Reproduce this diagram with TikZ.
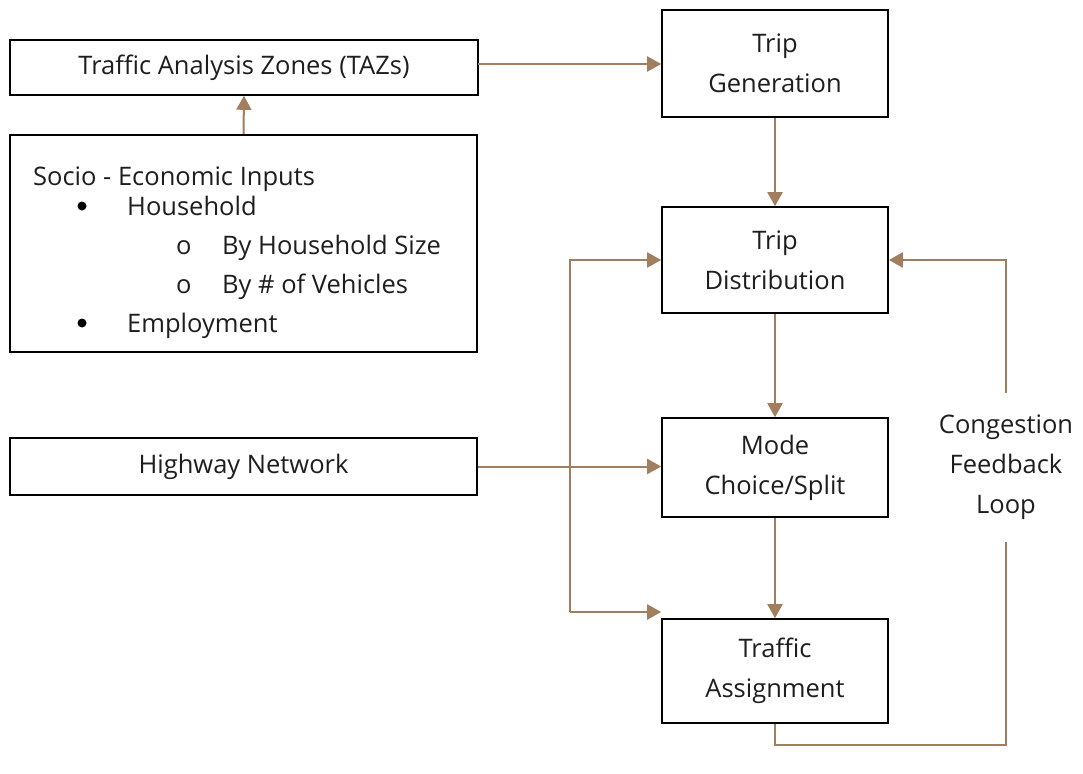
\documentclass[tikz,border=0pt]{standalone}
\usepackage{fontspec}
\setmainfont{Open Sans}
\usetikzlibrary{arrows.meta}
\definecolor{conn}{RGB}{160,126,94}
\definecolor{txt}{RGB}{30,30,30}
\tikzset{
  box/.style={draw=black, line width=1.6pt, inner sep=0pt, text=txt, align=center, font=\fontsize{25.5}{40}\selectfont},
  link/.style={draw=conn, line width=2pt, -{Triangle[length=14pt,width=15pt]}},
  plain/.style={draw=conn, line width=2pt},
  dot/.style={circle, fill=black, inner sep=0pt, minimum size=9pt},
}
\begin{document}
\begin{tikzpicture}[x=1pt,y=-1pt]
\useasboundingbox (0,0) rectangle (1083,773);
% boxes
\node[box, minimum width=468pt, minimum height=55pt] (taz) at (244,67.5) {Traffic Analysis Zones (TAZs)};
\node[box, minimum width=467pt, minimum height=217pt] (soc) at (243.5,243.5) {};
\node[box, minimum width=467pt, minimum height=57pt] (hwy) at (243.5,466.5) {Highway Network};
\node[box, minimum width=226pt, minimum height=107pt] (gen) at (775,63.5) {Trip\\Generation};
\node[box, minimum width=226pt, minimum height=106pt] (dist) at (775,260) {Trip\\Distribution};
\node[box, minimum width=226pt, minimum height=99pt] (mode) at (775,467.5) {Mode\\Choice/Split};
\node[box, minimum width=226pt, minimum height=104pt] (asg) at (775,671) {Traffic\\Assignment};
% socio text
\begin{scope}[every node/.style={anchor=base west, inner sep=0pt, text=txt, font=\fontsize{25.5}{30}\selectfont}]
\node (s0) at (33,185) {Socio - Economic Inputs};
\node (s1) at (127,215) {Household};
\node (o1) at (176,254) {o};
\node (s2) at (222,254) {By Household Size};
\node (o2) at (176,293) {o};
\node (s3) at (222,293) {By \# of Vehicles};
\node (s4) at (127,332) {Employment};
\end{scope}
\node[dot] (b1) at (82,206) {};
\node[dot] (b2) at (82,323) {};
% label
\node[align=center, inner sep=0pt, text=txt, font=\fontsize{25.5}{40}\selectfont] (cfl) at (1006,467) {Congestion\\Feedback\\Loop};
% coordinates
\coordinate (fb1) at (1006,542);
\coordinate (fb2) at (1006,745);
\coordinate (fb3) at (775,745);
\coordinate (fb4) at (1006,393);
\coordinate (fb5) at (1006,260);
\coordinate (lv1) at (570,260);
\coordinate (lv2) at (570,612);
\coordinate (tz) at (478,64);
% connectors
\draw[link] (tz) -- (gen.west |- tz);
\draw[link] (soc.north) -- (taz.south);
\draw[link] (gen.south) -- (dist.north);
\draw[link] (dist.south) -- (mode.north);
\draw[link] (mode.south) -- (asg.north);
\draw[link] (hwy.east) -- (mode.west |- hwy.east);
\draw[link] (lv2) -- (lv1) -- (dist.west);
\draw[link] (lv2) -- (asg.west |- lv2);
\draw[plain] (asg.south) -- (fb3) -- (fb2) -- (fb1);
\draw[link] (fb4) -- (fb5) -- (dist.east);
\end{tikzpicture}
\end{document}
